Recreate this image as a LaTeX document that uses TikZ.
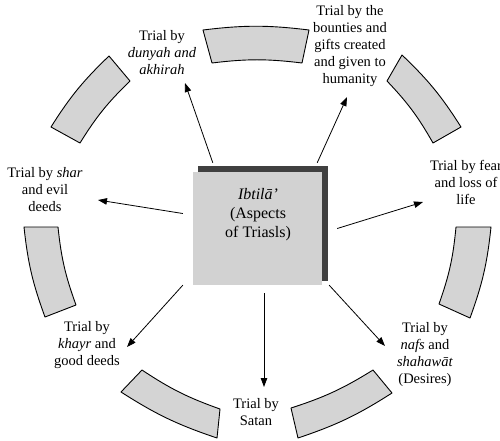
\documentclass[tikz,border=0pt]{standalone}
\usepackage{fontspec}
\setmainfont{Liberation Serif}
\usetikzlibrary{arrows.meta}

\definecolor{ringgray}{HTML}{D4D4D4}
\definecolor{boxgray}{HTML}{D2D2D2}
\definecolor{shadowgray}{HTML}{404040}

% one block of the broken ring: outer edge, then inner edge back
\newcommand{\ringpiece}[4]{%
  \draw[piece] #1 to[bend left = 7] #2 -- #3 to[bend right = 7] #4 -- cycle;}

\begin{document}
\begin{tikzpicture}[
  x = 1pt, y = -1pt,
  piece/.style = {
    draw = black,
    fill = ringgray,
    line width = 0.9pt,
    line join = round,
  },
  trial/.style = {
    align = center,
    inner sep = 0pt,
    font = \fontsize{14.5}{17}\selectfont,
  },
  centerbox/.style = {
    fill = boxgray,
    minimum width = 129pt,
    minimum height = 113pt,
    inner sep = 0pt,
  },
  arrow/.style = {
    -{Triangle[length = 9pt, width = 6.5pt]},
    line width = 0.8pt,
  }
]
  \useasboundingbox (0, 0) rectangle (500, 440);

  % the ring
  \ringpiece{(203, 30)}{(309, 30)}{(302, 63)}{(212, 63)}
  \ringpiece{(402, 55)}{(461, 127)}{(433, 143)}{(387, 81)}
  \ringpiece{(491, 227)}{(470, 318)}{(439, 304)}{(456, 227)}
  \ringpiece{(392, 393)}{(298, 438)}{(291, 408)}{(373, 370)}
  \ringpiece{(217, 438)}{(121, 392)}{(142, 370)}{(220, 409)}
  \ringpiece{(45, 317)}{(24, 227)}{(58, 227)}{(76, 305)}
  \ringpiece{(51, 127)}{(109, 56)}{(130, 81)}{(80, 143)}

  % centre box
  \fill[shadowgray] (198, 166) rectangle (328, 281);
  \node[centerbox] (ibtila) at (257.5, 228.5) {};
  \node[align = center, inner sep = 0pt, font = \fontsize{16}{19}\selectfont]
    (ibtilatext) at (258, 215) {\textit{Ibtilā'}\\(Aspects\\of Triasls)};

  % the trials
  \node[trial] (dunya) at (162, 53) {Trial by\\\textit{dunyah and}\\\textit{akhirah}};
  \node[trial] (bounty) at (350, 46) {Trial by the\\bounties and\\gifts created\\and given to\\humanity};
  \node[trial] (fear) at (466, 182) {Trial by fear\\and loss of\\life};
  \node[trial] (shar) at (45, 190) {Trial by \textit{shar}\\and evil\\deeds};
  \node[trial] (khayr) at (87, 345) {Trial by\\\textit{khayr} and\\good deeds};
  \node[trial] (satan) at (256, 412) {Trial by\\Satan};
  \node[trial] (nafs) at (425, 355) {Trial by\\\textit{nafs} and\\\textit{shahawāt}\\(Desires)};

  \coordinate (tipdunya) at (185, 83);
  \coordinate (tipbounty) at (347, 97);
  \coordinate (tipfear) at (423, 202);
  \coordinate (tipshar) at (98, 200);
  \coordinate (tipkhayr) at (127, 347);
  \coordinate (tipsatan) at (264, 387);
  \coordinate (tipnafs) at (385, 346);

  \draw[arrow] ([shift = {(20, -9)}]ibtila.north west) -- (tipdunya);
  \draw[arrow] ([shift = {(-5, -9)}]ibtila.north east) -- (tipbounty);
  \draw[arrow] ([shift = {(15, 0)}]ibtila.east) -- (tipfear);
  \draw[arrow] ([shift = {(-10, -15)}]ibtila.west) -- (tipshar);
  \draw[arrow] ([shift = {(-10, 0)}]ibtila.south west) -- (tipkhayr);
  \draw[arrow] ([shift = {(6.5, 8)}]ibtila.south) -- (tipsatan);
  \draw[arrow] ([shift = {(7, 0)}]ibtila.south east) -- (tipnafs);
\end{tikzpicture}
\end{document}
